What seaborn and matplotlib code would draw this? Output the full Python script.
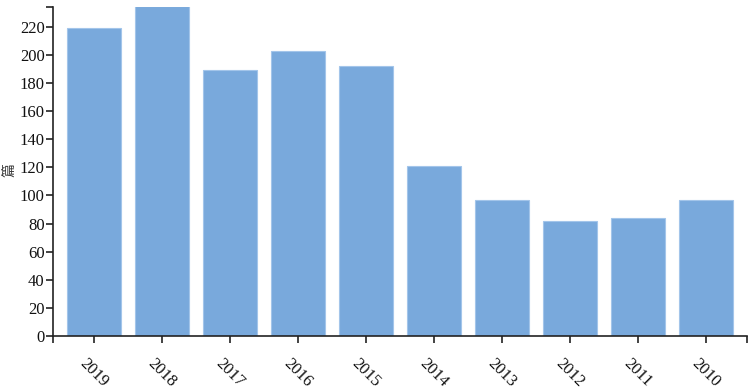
import matplotlib
matplotlib.use("Agg")
import matplotlib.pyplot as plt
import seaborn as sns
import pandas as pd

years = ["2019", "2018", "2017", "2016", "2015", "2014", "2013", "2012", "2011", "2010"]
counts = [219, 235, 189, 203, 192, 121, 97, 82, 84, 97]
y_ticks = [0, 20, 40, 60, 80, 100, 120, 140, 160, 180, 200, 220]
y_label = "篇"

sns.set_style("ticks")
plt.rcParams["font.family"] = ["Liberation Serif", "Noto Sans CJK SC"]

df = pd.DataFrame({"year": years, "count": counts})

fig = plt.figure(figsize=(7.49, 3.90), dpi=100)
ax = fig.add_axes([53 / 749, 1 - 336 / 390, (746.5 - 53) / 749, (336 - 7) / 390])

sns.barplot(data=df, x="year", y="count", order=years, color="#79a9dc",
            saturation=1, width=0.79, edgecolor="#a3c5ea", linewidth=0.8, ax=ax)

ax.set_xlim(-0.6, len(years) - 0.4)
ax.set_ylim(0, 234)
ax.set_yticks(y_ticks)
ax.set_yticklabels([str(v) for v in y_ticks])
ax.set_xlabel("")
ax.set_ylabel("")
fig.text(10 / 749, 1 - 170 / 390, y_label, rotation=90, ha="center", va="center",
         fontsize=10, family=["Noto Sans CJK SC", "DejaVu Sans"], color="#333333")

for s in ["top", "right"]:
    ax.spines[s].set_visible(False)
for s in ["left", "bottom"]:
    ax.spines[s].set_color("#222222")
    ax.spines[s].set_linewidth(1.2)

ax.tick_params(axis="both", direction="out", length=5, width=1.2, color="#222222",
               labelsize=12, labelcolor="#111111")
ax.tick_params(axis="x", pad=9)
ax.tick_params(axis="y", pad=1)
for lbl in ax.get_xticklabels():
    lbl.set_rotation(-45)
    lbl.set_ha("center")
    lbl.set_va("top")

# outer end ticks
ax.set_xticks([-0.6, len(years) - 0.4], minor=True)
ax.set_yticks([234], minor=True)
ax.tick_params(which="minor", direction="out", length=5, width=1.2, color="#222222")

fig.savefig("out.png", dpi=100)
